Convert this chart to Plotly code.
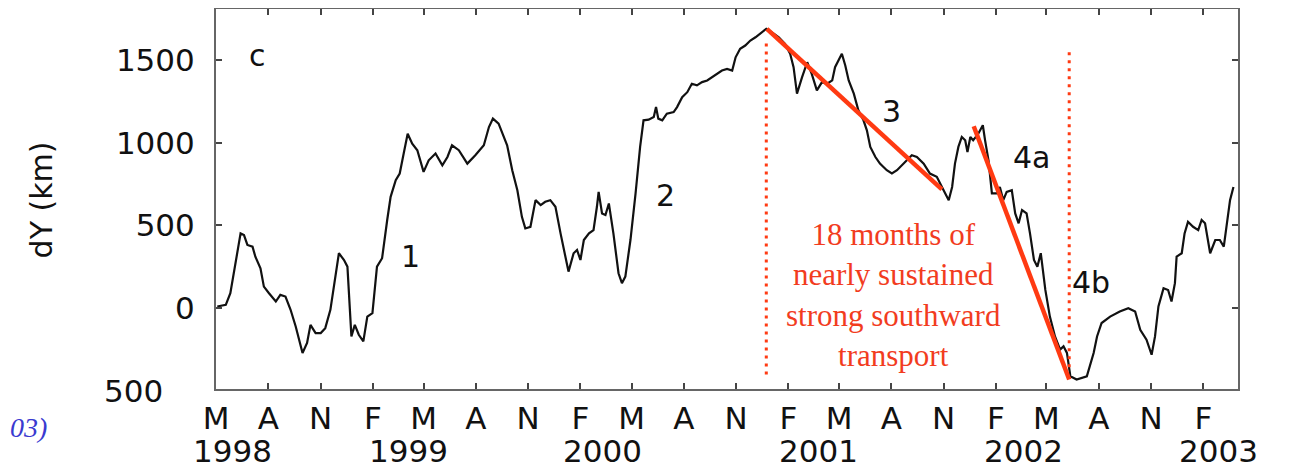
import pandas as pd
import plotly.graph_objects as go

# ---------------- data ----------------
# time in days since 1998-05-01, dY in km
days = [2, 17, 25, 34, 43, 49, 55, 64, 69, 78, 84, 93, 105, 113, 122, 131, 140, 152, 160, 166,
        175, 184, 192, 201, 208, 216, 225, 231, 238, 244, 251, 259, 266, 275, 283, 292, 301, 307,
        316, 323, 330, 337, 345, 354, 365, 374, 386, 398, 407, 415, 427, 442, 456, 471, 480, 487,
        497, 512, 521, 530, 538, 544, 553, 562, 571, 579, 588, 597, 606, 615, 620, 629, 635, 641,
        647, 656, 664, 670, 673, 679, 685, 691, 699, 708, 714, 720, 729, 738, 746, 752, 761, 770,
        774, 778, 785, 793, 805, 811, 820, 829, 837, 846, 855, 864, 873, 881, 890, 899, 908, 914,
        922, 931, 940, 949, 957, 968, 978, 990, 1001, 1010, 1016, 1022, 1031, 1040, 1048, 1057,
        1066, 1075, 1084, 1089, 1101, 1107, 1113, 1122, 1130, 1139, 1145, 1151, 1160, 1168, 1180,
        1189, 1198, 1209, 1224, 1233, 1245, 1256, 1268, 1280, 1289, 1295, 1300, 1306, 1312, 1318,
        1322, 1327, 1332, 1341, 1349, 1353, 1359, 1365, 1374, 1379, 1385, 1391, 1400, 1406, 1412,
        1418, 1426, 1432, 1439, 1445, 1451, 1459, 1467, 1476, 1485, 1491, 1497, 1503, 1514, 1532,
        1544, 1550, 1558, 1573, 1590, 1605, 1617, 1626, 1637, 1646, 1652, 1658, 1667, 1675, 1681,
        1687, 1690, 1699, 1704, 1710, 1719, 1728, 1734, 1740, 1749, 1758, 1766, 1773, 1778, 1784,
        1790]
dy_km = [10, 20, 90, 273, 452, 442, 382, 372, 311, 241, 130, 90, 40, 80, 70, -10, -111, -271, -211, -101,
         -151, -151, -121, -10, 151, 332, 291, 251, -171, -101, -161, -201, -51, -30, 251, 302, 533, 673,
         774, 814, 935, 1055, 995, 955, 824, 894, 935, 864, 914, 985, 955, 874, 925, 985, 1095, 1146,
         1116, 985, 834, 713, 552, 482, 492, 653, 623, 643, 653, 613, 452, 291, 221, 332, 352, 291,
         412, 452, 472, 613, 703, 573, 563, 633, 452, 211, 151, 191, 412, 694, 975, 1136, 1140, 1156,
         1216, 1146, 1136, 1176, 1186, 1216, 1276, 1306, 1357, 1347, 1367, 1377, 1397, 1417, 1437, 1447, 1437, 1517,
         1568, 1588, 1618, 1638, 1658, 1689, 1668, 1638, 1598, 1538, 1457, 1297, 1397, 1487, 1417, 1317,
         1367, 1357, 1377, 1457, 1538, 1467, 1377, 1297, 1196, 1136, 1075, 975, 914, 874, 834,
         814, 834, 874, 925, 914, 874, 814, 794, 713, 653, 733, 874, 975, 1035, 1015,
         944, 1035, 1015, 1055, 1106, 1015, 894, 694, 694, 733, 653, 703, 713, 573, 513,
         593, 573, 452, 291, 251, 332, 110, -51, -171, -251, -231, -271, -412, -432, -412,
         -271, -171, -90, -51, -20, 0, -20, -131, -191, -282, -171, 10, 121, 110, 40,
         151, 311, 332, 452, 522, 492, 472, 533, 513, 332, 412, 412, 372, 513, 653,
         733]

# red trend segments (days, dY)
trend3_days = [969, 1277]
trend3_dy = [1689, 718]
trend4_days = [1333, 1501]
trend4_dy = [1100, -432]

# red dotted event markers
event_days = [968, 1501]
event_top = [1601, 1547]
event_bottom = [-402, -384]

# axis labels
month_tick_dates = pd.date_range("1998-05-01", "2003-02-01", freq="3MS")
month_letters = ["M", "A", "N", "F"] * 5
year_labels = ["1998", "1999", "2000", "2001", "2002", "2003"]
year_label_days = [29, 339, 680, 1059, 1420, 1763]
y_ticks = [0, 500, 1000, 1500]

# phase labels (text, days, dY)
phase_text = ["1", "2", "3", "4a", "4b"]
phase_days = [342, 790, 1188, 1434, 1540]
phase_dy = [315, 683, 1189, 912, 153]

START = pd.Timestamp("1998-05-01")


def to_dates(d):
    return [START + pd.Timedelta(days=int(v)) for v in d]


RED_LINE = "#ff3a12"
RED_TEXT = "#f23c1e"
FONT = "DejaVu Sans"
INK = "#111111"

fig = go.Figure()

fig.add_trace(go.Scatter(x=to_dates(days), y=dy_km, mode="lines",
                         line=dict(color=INK, width=2.2), showlegend=False))

for d, top, bot in zip(event_days, event_top, event_bottom):
    fig.add_trace(go.Scatter(x=to_dates([d, d]), y=[top, bot], mode="lines",
                             line=dict(color=RED_LINE, width=3, dash="3px,5px"),
                             showlegend=False))

fig.add_trace(go.Scatter(x=to_dates(trend3_days), y=trend3_dy, mode="lines",
                         line=dict(color=RED_LINE, width=4.5), showlegend=False))
fig.add_trace(go.Scatter(x=to_dates(trend4_days), y=trend4_dy, mode="lines",
                         line=dict(color=RED_LINE, width=4.5), showlegend=False))

annotations = []
for t, d, v in zip(phase_text, phase_days, phase_dy):
    annotations.append(dict(x=to_dates([d])[0], y=v, xref="x", yref="y", text=t,
                            showarrow=False, xanchor="center", yanchor="middle",
                            font=dict(family=FONT, size=30, color=INK)))

for t, d in zip(year_labels, year_label_days):
    annotations.append(dict(x=to_dates([d])[0], y=-0.163, xref="x", yref="paper", text=t,
                            showarrow=False, yanchor="middle", xanchor="center",
                            font=dict(family=FONT, size=31, color=INK)))

annotations += [
    dict(x=0.041, y=0.877, xref="paper", yref="paper", text="c", showarrow=False,
         xanchor="center", yanchor="middle",
         font=dict(family=FONT, size=30, color=INK)),
    dict(x=-0.171, y=0.497, xref="paper", yref="paper", text="dY (km)", showarrow=False,
         textangle=-90, xanchor="center", yanchor="middle",
         font=dict(family=FONT, size=30, color=INK)),
    dict(x=-0.05, y=-0.004, xref="paper", yref="paper", text="500", showarrow=False,
         xanchor="right", yanchor="middle",
         font=dict(family=FONT, size=31, color=INK)),
    dict(x=-0.2035, y=-0.102, xref="paper", yref="paper", text="<i>03)</i>", showarrow=False,
         xanchor="left", yanchor="middle",
         font=dict(family="Liberation Serif", size=28, color="#3a3ad0")),
    dict(x=to_dates([1191])[0], y=80, xref="x", yref="y",
         text="18 months of<br>nearly sustained<br>strong southward<br>transport",
         showarrow=False, align="center", xanchor="center", yanchor="middle",
         font=dict(family="Liberation Serif", size=31, color=RED_TEXT)),
]

fig.update_layout(
    width=1287, height=461,
    margin=dict(l=208, r=57, t=1, b=80, autoexpand=False),
    paper_bgcolor="white", plot_bgcolor="white",
    annotations=annotations,
    showlegend=False,
)

fig.update_xaxes(
    type="date",
    range=[START - pd.Timedelta(hours=6), START + pd.Timedelta(days=1798)],
    tickvals=list(month_tick_dates), ticktext=month_letters,
    ticks="inside", ticklen=6, tickwidth=2, tickcolor="#444444",
    showline=True, linecolor="#666666", linewidth=2, mirror="ticks",
    showgrid=False, zeroline=False,
    tickfont=dict(family=FONT, size=31, color=INK),
    ticklabelstandoff=1,
    automargin=False,
)
fig.update_yaxes(
    range=[-489, 1809],
    tickvals=y_ticks, ticktext=[str(v) for v in y_ticks],
    ticks="inside", ticklen=6, tickwidth=2, tickcolor="#444444",
    showline=True, linecolor="#666666", linewidth=2, mirror="ticks",
    showgrid=False, zeroline=False,
    tickfont=dict(family=FONT, size=31, color=INK),
    ticklabelstandoff=13,
    automargin=False,
)

fig.write_html("out.html")
